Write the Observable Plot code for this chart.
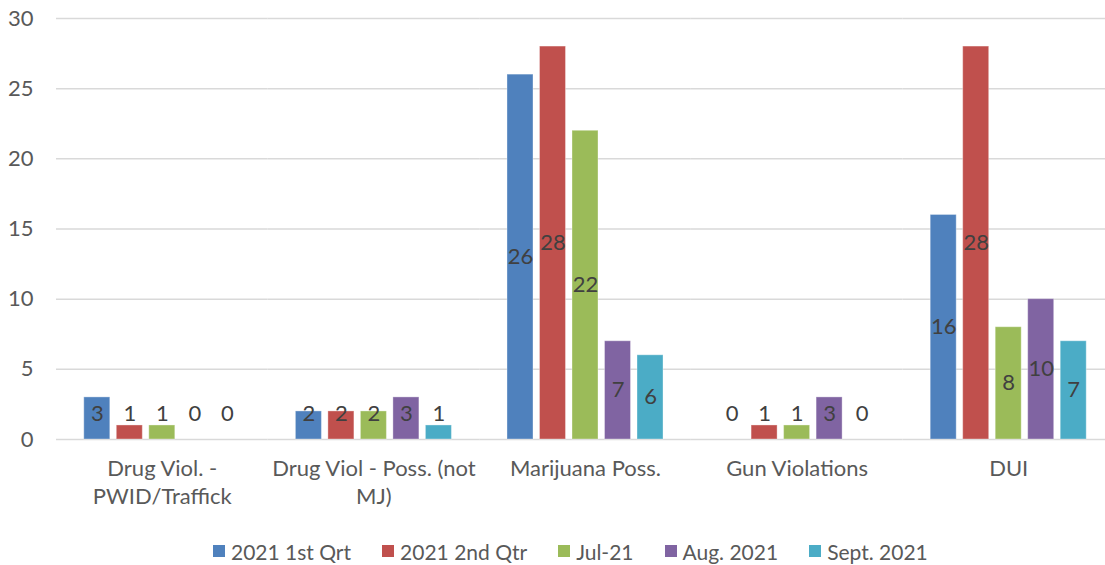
<!DOCTYPE html>
<html>
<head>
<meta charset="utf-8">
<script src="https://cdn.jsdelivr.net/npm/d3@7"></script>
<script src="https://cdn.jsdelivr.net/npm/@observablehq/plot@0.6"></script>
<style>
  html, body { margin: 0; padding: 0; background: #fff; overflow: hidden; }
  #wrap { position: relative; width: 1105px; height: 565px; font-family: Lato, sans-serif; }
  #legend { position: absolute; left: 213px; top: 538px; height: 26px; display: flex; align-items: center; font-size: 21px; color: #595959; white-space: nowrap; }
  #legend .item { display: flex; align-items: center; margin-right: 31px; }
  #legend .sw { width: 12px; height: 12px; margin-right: 6px; }
</style>
</head>
<body>
<div id="wrap"><div id="chart"></div><div id="legend"></div></div>
<script>
const categories = ["Drug Viol. -\nPWID/Traffick", "Drug Viol - Poss. (not\nMJ)", "Marijuana Poss.", "Gun Violations", "DUI"];
const series = ["2021 1st Qrt", "2021 2nd Qtr", "Jul-21", "Aug. 2021", "Sept. 2021"];
const q1 = [3, 2, 26, 0, 16];
const q2 = [1, 2, 28, 1, 28];
const jul = [1, 2, 22, 1, 8];
const aug = [0, 3, 7, 3, 10];
const sep = [0, 1, 6, 0, 7];
const colors = ["#4F81BD", "#C0504D", "#9BBB59", "#8064A2", "#4BACC6"];
const yTicks = [0, 5, 10, 15, 20, 25, 30];

const seriesValues = [q1, q2, jul, aug, sep];
const data = [];
categories.forEach((c, i) => {
  series.forEach((s, j) => {
    const v = seriesValues[j][i];
    data.push({category: c, series: s, value: v, labelY: Math.max(v / 2, 1.8)});
  });
});

const chart = Plot.plot({
  width: 1105,
  height: 525,
  marginLeft: 56,
  marginRight: -9,
  marginTop: 18,
  marginBottom: 86,
  style: {fontFamily: "Lato, sans-serif", fontSize: "22px", color: "#595959", overflow: "hidden"},
  fx: {domain: categories, padding: 0, round: false, axis: null, label: null},
  x: {domain: series, paddingInner: 0.2, paddingOuter: 0.855, round: false, axis: null, label: null},
  y: {domain: [0, 30], ticks: yTicks, axis: null, label: null},
  color: {domain: series, range: colors},
  marks: [
    Plot.gridY(yTicks, {stroke: "#d9d9d9", strokeOpacity: 1, strokeWidth: 1.5}),
    Plot.axisY(yTicks, {tickSize: 0, tickPadding: 23, fontSize: 22, fill: "#595959", label: null}),
    Plot.barY(data, {fx: "category", x: "series", y: "value", fill: "series", stroke: "#ffffff", strokeOpacity: 0.35, strokeWidth: 1}),
    Plot.text(data, {fx: "category", x: "series", y: "labelY", text: d => String(d.value), fill: "#404040", fontSize: 22}),
    Plot.axisFx({anchor: "bottom", tickSize: 0, tickPadding: 17, fontSize: 22, lineHeight: 1.27, fill: "#595959", label: null})
  ]
});
document.getElementById("chart").appendChild(chart);

const legend = document.getElementById("legend");
series.forEach((s, i) => {
  const item = document.createElement("div");
  item.className = "item";
  const sw = document.createElement("div");
  sw.className = "sw";
  sw.style.background = colors[i];
  const t = document.createElement("span");
  t.textContent = s;
  item.appendChild(sw);
  item.appendChild(t);
  legend.appendChild(item);
});
</script>
</body>
</html>
